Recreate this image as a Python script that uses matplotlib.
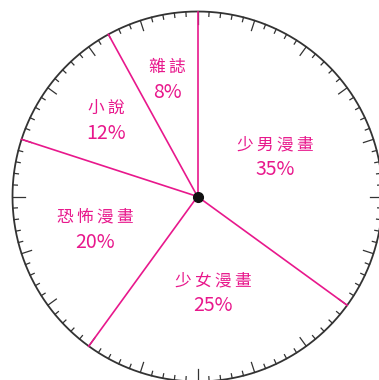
import numpy as np
import matplotlib
matplotlib.use("Agg")
import matplotlib.pyplot as plt

# slices, clockwise from 12 o'clock
names = ["少男漫畫", "少女漫畫", "恐怖漫畫", "小說", "雜誌"]
shares = [35, 25, 20, 12, 8]
label_r = [0.47, 0.53, 0.58, 0.64, 0.65]   # label distance, fraction of radius

pink = "#E8188C"
ink = "#333333"
cjk = ["Noto Sans CJK TC", "DejaVu Sans"]

fig = plt.figure(figsize=(3.79, 3.80), dpi=100)
ax = fig.add_axes([0, 0, 1, 1])
ax.set_xlim(0, 379)
ax.set_ylim(380, 0)
ax.axis("off")

cx, cy, R = 197.5, 196.5, 185.0

def pt(ang, r):
    a = np.deg2rad(ang)
    return cx + r * np.sin(a), cy - r * np.cos(a)

# outer circle
t = np.linspace(0, 360, 721)
xs, ys = pt(t, R)
ax.plot(xs, ys, color=ink, lw=1.3, solid_capstyle="butt")

# scale ticks, one per percent
for k in range(100):
    if k % 25 == 0:
        L = 12.5
    elif k % 5 == 0:
        L = 10.5
    else:
        L = 4.5
    x0, y0 = pt(k * 3.6, R)
    x1, y1 = pt(k * 3.6, R - L)
    ax.plot([x0, x1], [y0, y1], color=ink, lw=0.9)

# slice borders
edges = np.concatenate([[0], np.cumsum(shares)]) * 3.6
for e in edges[:-1]:
    x1, y1 = pt(e, R)
    ax.plot([cx, x1], [cy, y1], color=pink, lw=1.2)

ax.plot([cx], [cy], "o", color="#111111", ms=7, zorder=5)

# labels
for i, (n, s) in enumerate(zip(names, shares)):
    mid = (edges[i] + edges[i + 1]) / 2
    lx, ly = pt(mid, label_r[i] * R)
    ax.text(lx, ly - 12.5, "\u2009".join(n), color=pink, fontsize=12,
            family=cjk, ha="center", va="center")
    ax.text(lx, ly + 12.5, f"{s}%", color=pink, fontsize=14,
            family=cjk, ha="center", va="center")

fig.savefig("out.png", dpi=100)
